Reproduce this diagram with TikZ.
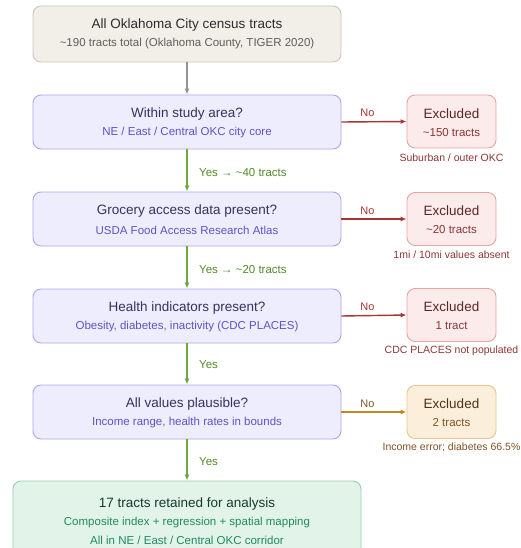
\documentclass[tikz,border=0pt]{standalone}
\usepackage{fontspec}
\setmainfont{Liberation Sans}
\usetikzlibrary{arrows.meta}
\definecolor{lavfill}{HTML}{EEEDFD}
\definecolor{lavdraw}{HTML}{ABA6EA}
\definecolor{lavtitle}{HTML}{36315E}
\definecolor{lavsub}{HTML}{5E52C8}
\definecolor{begfill}{HTML}{F1EFE8}
\definecolor{begdraw}{HTML}{C9C6BE}
\definecolor{begtitle}{HTML}{2C2C2A}
\definecolor{begsub}{HTML}{5F5E5A}
\definecolor{redfill}{HTML}{FCEBEB}
\definecolor{reddraw}{HTML}{EAA3A3}
\definecolor{redline}{HTML}{A83434}
\definecolor{redtitle}{HTML}{5A2626}
\definecolor{redsub}{HTML}{8C3535}
\definecolor{orfill}{HTML}{FBEEDA}
\definecolor{ordraw}{HTML}{EAC68F}
\definecolor{orline}{HTML}{C98524}
\definecolor{ortitle}{HTML}{4E3414}
\definecolor{orsub}{HTML}{7E5424}
\definecolor{grline}{HTML}{6FA83A}
\definecolor{grtext}{HTML}{4F8A26}
\definecolor{finfill}{HTML}{E2F4EA}
\definecolor{findraw}{HTML}{93CDAE}
\definecolor{fintitle}{HTML}{173A2A}
\definecolor{finsub}{HTML}{1F8A5C}
\tikzset{
  mainbox/.style={draw=lavdraw, fill=lavfill, line width=0.9pt, rounded corners=8pt, minimum width=308pt, minimum height=54pt, inner sep=0pt},
  exbox/.style={draw=reddraw, fill=redfill, line width=0.9pt, rounded corners=8pt, minimum width=89pt, minimum height=53pt, inner sep=0pt},
  ttl/.style={font=\fontsize{13.5}{16}\selectfont, inner sep=0pt},
  sub/.style={font=\fontsize{11.5}{13}\selectfont, inner sep=0pt},
  note/.style={font=\fontsize{10.5}{12}\selectfont, inner sep=0pt, text=redsub},
  yesarr/.style={draw=grline, line width=1.4pt, -{Latex[length=6pt,width=5pt]}},
  noarr/.style={draw=redline, line width=1.4pt, -{Latex[length=6pt,width=5pt]}},
  yeslbl/.style={font=\fontsize{11.5}{13}\selectfont, text=grtext, inner sep=0pt, anchor=west},
  nolbl/.style={font=\fontsize{11}{12}\selectfont, inner sep=0pt},
}
\begin{document}
\begin{tikzpicture}[x=1pt,y=-1pt]
\useasboundingbox (0,0) rectangle (520,548);
\clip (0,0) rectangle (520,548);
% top box
\node[mainbox, draw=begdraw, fill=begfill, minimum height=56pt] (b1) at (187,34) {};
\node[ttl, text=begtitle] (b1t) at (187,25) {All Oklahoma City census tracts};
\node[sub, text=begsub] (b1s) at (187,44) {\textasciitilde190 tracts total (Oklahoma County, TIGER 2020)};
% decision boxes
\node[mainbox] (b2) at (187,122) {};
\node[ttl, text=lavtitle] (b2t) at (187,114) {Within study area?};
\node[sub, text=lavsub] (b2s) at (187,133) {NE / East / Central OKC city core};
\node[mainbox] (b3) at (187,219) {};
\node[ttl, text=lavtitle] (b3t) at (187,211) {Grocery access data present?};
\node[sub, text=lavsub] (b3s) at (187,230) {USDA Food Access Research Atlas};
\node[mainbox] (b4) at (187,316) {};
\node[ttl, text=lavtitle] (b4t) at (187,308) {Health indicators present?};
\node[sub, text=lavsub] (b4s) at (187,327) {Obesity, diabetes, inactivity (CDC PLACES)};
\node[mainbox] (b5) at (187,412) {};
\node[ttl, text=lavtitle] (b5t) at (187,404) {All values plausible?};
\node[sub, text=lavsub] (b5s) at (187,423) {Income range, health rates in bounds};
% final box
\node[mainbox, draw=findraw, fill=finfill, minimum width=348pt, minimum height=90pt] (b6) at (187,526) {};
\node[ttl, text=fintitle] (b6t) at (187,504) {17 tracts retained for analysis};
\node[sub, text=finsub] (b6s) at (187,523) {Composite index + regression + spatial mapping};
\node[sub, text=finsub] (b6u) at (187,540) {All in NE / East / Central OKC corridor};
% excluded boxes
\node[exbox] (x1) at (451.5,121.5) {};
\node[ttl, text=redtitle] (x1t) at (451.5,114) {Excluded};
\node[sub, text=redsub] (x1s) at (451.5,133) {\textasciitilde150 tracts};
\node[note] (x1n) at (451.5,158) {Suburban / outer OKC};
\node[exbox] (x2) at (451.5,219) {};
\node[ttl, text=redtitle] (x2t) at (451.5,211) {Excluded};
\node[sub, text=redsub] (x2s) at (451.5,230) {\textasciitilde20 tracts};
\node[note] (x2n) at (451.5,255) {1mi / 10mi values absent};
\node[exbox] (x3) at (451.5,315) {};
\node[ttl, text=redtitle] (x3t) at (451.5,307) {Excluded};
\node[sub, text=redsub] (x3s) at (451.5,326) {1 tract};
\node[note] (x3n) at (451.5,351) {CDC PLACES not populated};
\node[exbox, draw=ordraw, fill=orfill] (x4) at (451.5,412) {};
\node[ttl, text=ortitle] (x4t) at (451.5,404) {Excluded};
\node[sub, text=orsub] (x4s) at (451.5,423) {2 tracts};
\node[note, text=orsub] (x4n) at (451.5,447) {Income error; diabetes 66.5\%};
% vertical arrows
\draw[draw=gray!85, line width=1.4pt, -{Latex[length=6pt,width=5pt]}] (b1.south) -- (b2.north);
\draw[yesarr] (b2.south) -- (b3.north);
\draw[yesarr] (b3.south) -- (b4.north);
\draw[yesarr] (b4.south) -- (b5.north);
\draw[yesarr] (b5.south) -- (b6.north);
\node[yeslbl] (y1) at (199,173) {Yes → \textasciitilde40 tracts};
\node[yeslbl] (y2) at (199,270) {Yes → \textasciitilde20 tracts};
\node[yeslbl] (y3) at (199,365) {Yes};
\node[yeslbl] (y4) at (199,462) {Yes};
% horizontal arrows
\draw[noarr] (b2.east) -- node[pos=0.4, above=4pt, nolbl, text=redline] {No} (x1.west);
\draw[noarr] (b3.east) -- node[pos=0.4, above=4pt, nolbl, text=redline] {No} (x2.west);
\draw[noarr] (b4.east) -- node[pos=0.4, above=4pt, nolbl, text=redline] {No} (x3.west);
\draw[noarr, draw=orline] (b5.east) -- node[pos=0.4, above=4pt, nolbl, text=orsub] {No} (x4.west);
\end{tikzpicture}
\end{document}
